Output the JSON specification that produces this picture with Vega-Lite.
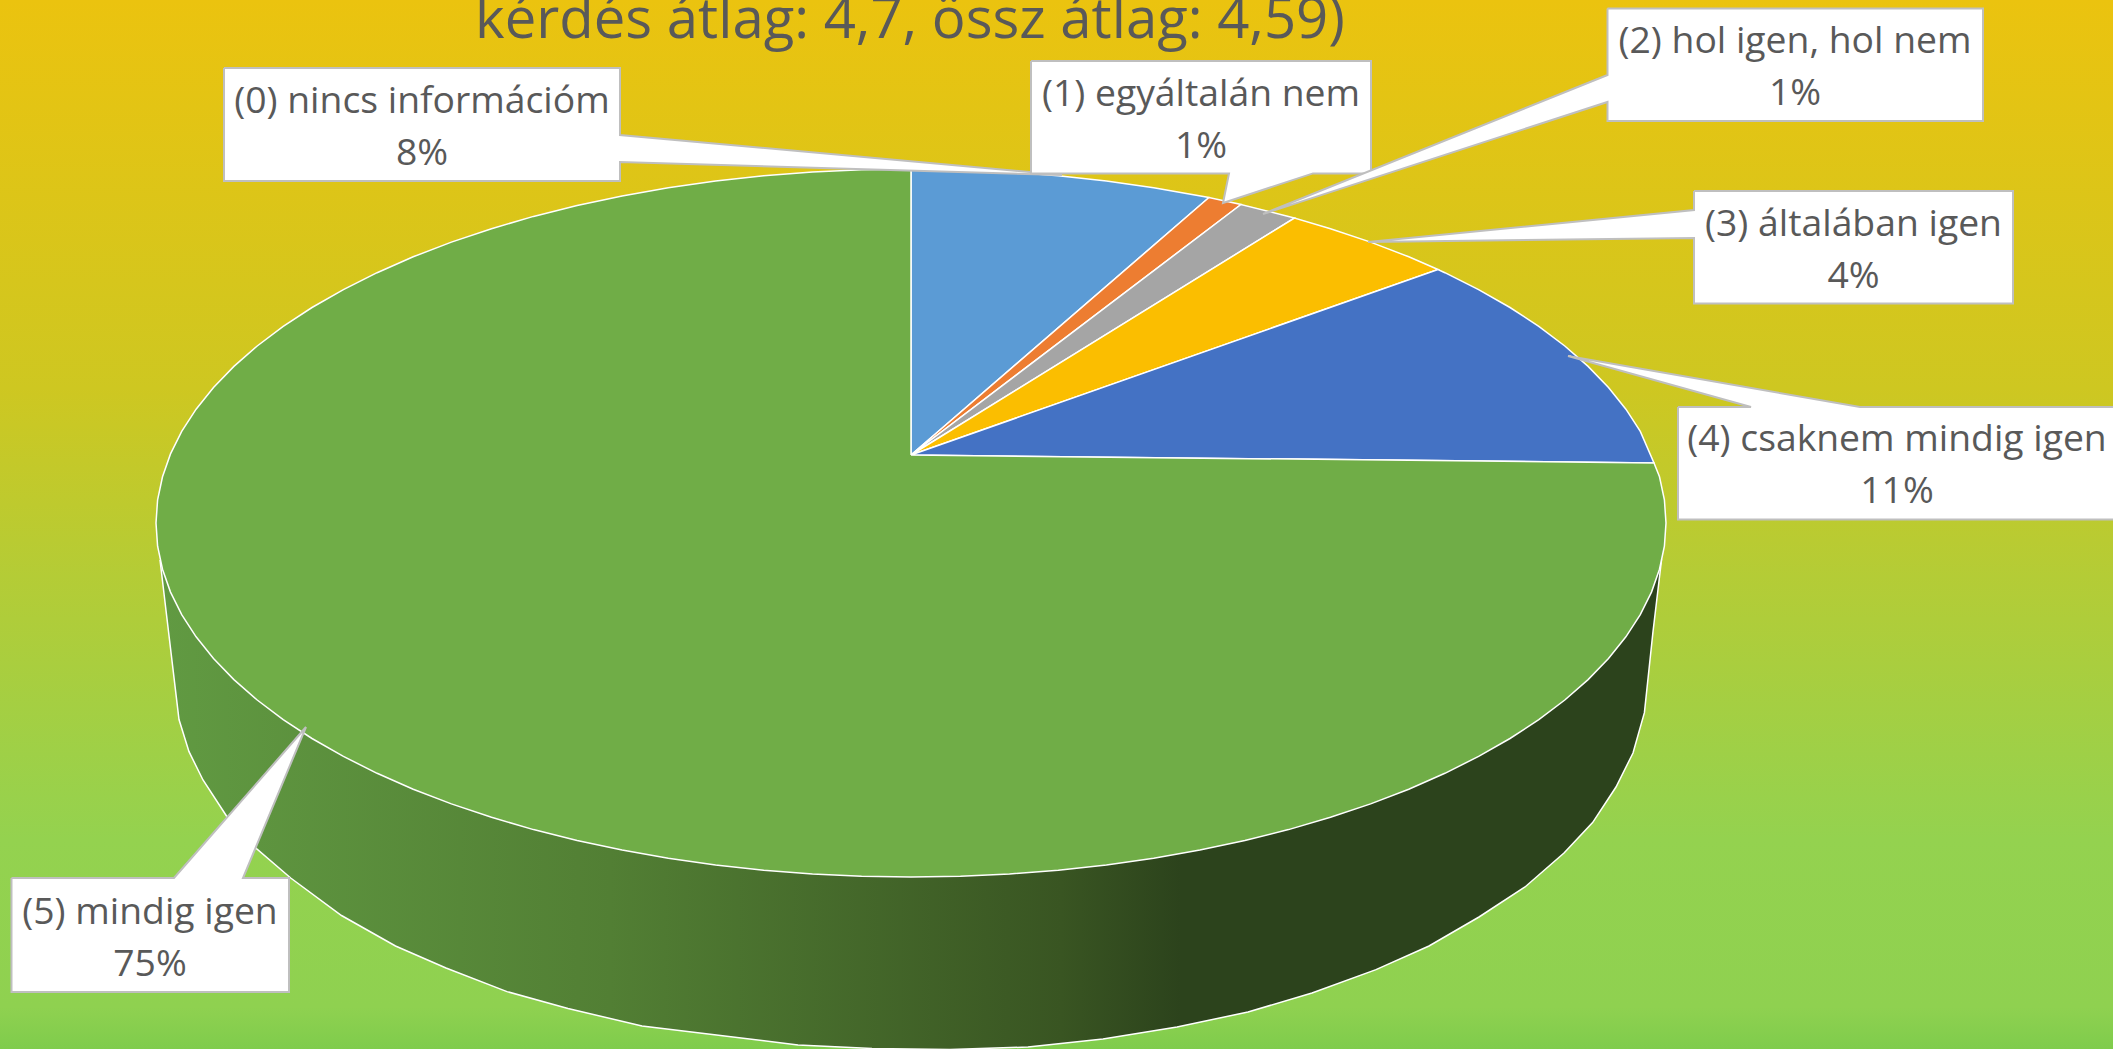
{"$schema":"https://vega.github.io/schema/vega-lite/v6.json","width":2113,"height":1049,"padding":0,"autosize":{"type":"none"},"view":{"stroke":null},
"datasets":{
"wedges":[
{"s":"a","i":0,"x":911,"y":455},{"s":"a","i":1,"x":911,"y":169},{"s":"a","i":1.5,"x":960.4,"y":169.8},{"s":"a","i":2,"x":1009.5,"y":172},{"s":"a","i":2.5,"x":1058.3,"y":175.8},{"s":"a","i":3,"x":1106.4,"y":181.1},{"s":"a","i":3.5,"x":1153.7,"y":187.8},{"s":"a","i":4,"x":1209,"y":197.5},{"s":"a","i":5,"x":911,"y":455},
{"s":"b","i":0,"x":911,"y":455},{"s":"b","i":1,"x":1209,"y":197.5},{"s":"b","i":2,"x":1241,"y":204.5},{"s":"b","i":3,"x":911,"y":455},
{"s":"c","i":0,"x":911,"y":455},{"s":"c","i":1,"x":1241,"y":204.5},{"s":"c","i":2,"x":1288.5,"y":216.4},{"s":"c","i":3,"x":1294.5,"y":218},{"s":"c","i":4,"x":911,"y":455},
{"s":"d","i":0,"x":911,"y":455},{"s":"d","i":1,"x":1294.5,"y":218},{"s":"d","i":1.5,"x":1330.5,"y":228.7},{"s":"d","i":2,"x":1370.6,"y":242.1},{"s":"d","i":2.5,"x":1408.8,"y":256.8},{"s":"d","i":3,"x":1438,"y":269.5},{"s":"d","i":4,"x":911,"y":455},
{"s":"e","i":0,"x":911,"y":455},{"s":"e","i":1,"x":1438,"y":269.5},{"s":"e","i":2,"x":1444.9,"y":272.7},{"s":"e","i":2.5,"x":1478.6,"y":289.6},{"s":"e","i":3,"x":1510,"y":307.5},{"s":"e","i":3.5,"x":1538.8,"y":326.3},{"s":"e","i":4,"x":1564.8,"y":346},{"s":"e","i":4.5,"x":1588.1,"y":366.4},{"s":"e","i":5,"x":1608.5,"y":387.5},{"s":"e","i":5.5,"x":1625.9,"y":409.2},{"s":"e","i":6,"x":1640.3,"y":431.4},{"s":"e","i":7,"x":1654,"y":463},{"s":"e","i":8,"x":911,"y":455},
{"s":"f","i":0,"x":911,"y":455},{"s":"f","i":1,"x":1654,"y":463},{"s":"f","i":2,"x":1659.5,"y":476.8},{"s":"f","i":2.5,"x":1664.4,"y":499.8},{"s":"f","i":3,"x":1666,"y":523},{"s":"f","i":3.5,"x":1664.4,"y":546.2},{"s":"f","i":4,"x":1659.5,"y":569.2},{"s":"f","i":4.5,"x":1651.5,"y":592.1},{"s":"f","i":5,"x":1640.3,"y":614.6},{"s":"f","i":5.5,"x":1625.9,"y":636.8},{"s":"f","i":6,"x":1608.5,"y":658.5},{"s":"f","i":6.5,"x":1588.1,"y":679.6},{"s":"f","i":7,"x":1564.8,"y":700},{"s":"f","i":7.5,"x":1538.8,"y":719.7},{"s":"f","i":8,"x":1510,"y":738.5},{"s":"f","i":8.5,"x":1478.6,"y":756.4},{"s":"f","i":9,"x":1444.9,"y":773.3},{"s":"f","i":9.5,"x":1408.8,"y":789.2},{"s":"f","i":10,"x":1370.6,"y":803.9},{"s":"f","i":10.5,"x":1330.5,"y":817.3},{"s":"f","i":11,"x":1288.5,"y":829.6},{"s":"f","i":11.5,"x":1244.9,"y":840.5},{"s":"f","i":12,"x":1199.9,"y":850.1},{"s":"f","i":12.5,"x":1153.7,"y":858.2},{"s":"f","i":13,"x":1106.4,"y":864.9},{"s":"f","i":13.5,"x":1058.3,"y":870.2},{"s":"f","i":14,"x":1009.5,"y":874},{"s":"f","i":14.5,"x":960.4,"y":876.2},{"s":"f","i":15,"x":911,"y":877},{"s":"f","i":15.5,"x":861.6,"y":876.2},{"s":"f","i":16,"x":812.5,"y":874},{"s":"f","i":16.5,"x":763.7,"y":870.2},{"s":"f","i":17,"x":715.6,"y":864.9},{"s":"f","i":17.5,"x":668.3,"y":858.2},{"s":"f","i":18,"x":622.1,"y":850.1},{"s":"f","i":18.5,"x":577.1,"y":840.5},{"s":"f","i":19,"x":533.5,"y":829.6},{"s":"f","i":19.5,"x":491.5,"y":817.3},{"s":"f","i":20,"x":451.4,"y":803.9},{"s":"f","i":20.5,"x":413.2,"y":789.2},{"s":"f","i":21,"x":377.1,"y":773.3},{"s":"f","i":21.5,"x":343.4,"y":756.4},{"s":"f","i":22,"x":312,"y":738.5},{"s":"f","i":22.5,"x":283.2,"y":719.7},{"s":"f","i":23,"x":257.2,"y":700},{"s":"f","i":23.5,"x":233.9,"y":679.6},{"s":"f","i":24,"x":213.5,"y":658.5},{"s":"f","i":24.5,"x":196.1,"y":636.8},{"s":"f","i":25,"x":181.7,"y":614.6},{"s":"f","i":25.5,"x":170.5,"y":592.1},{"s":"f","i":26,"x":162.5,"y":569.2},{"s":"f","i":26.5,"x":157.6,"y":546.2},{"s":"f","i":27,"x":156,"y":523},{"s":"f","i":27.5,"x":157.6,"y":499.8},{"s":"f","i":28,"x":162.5,"y":476.8},{"s":"f","i":28.5,"x":170.5,"y":453.9},{"s":"f","i":29,"x":181.7,"y":431.4},{"s":"f","i":29.5,"x":196.1,"y":409.2},{"s":"f","i":30,"x":213.5,"y":387.5},{"s":"f","i":30.5,"x":233.9,"y":366.4},{"s":"f","i":31,"x":257.2,"y":346},{"s":"f","i":31.5,"x":283.2,"y":326.3},{"s":"f","i":32,"x":312,"y":307.5},{"s":"f","i":32.5,"x":343.4,"y":289.6},{"s":"f","i":33,"x":377.1,"y":272.7},{"s":"f","i":33.5,"x":413.2,"y":256.8},{"s":"f","i":34,"x":451.4,"y":242.1},{"s":"f","i":34.5,"x":491.5,"y":228.7},{"s":"f","i":35,"x":533.5,"y":216.4},{"s":"f","i":35.5,"x":577.1,"y":205.5},{"s":"f","i":36,"x":622.1,"y":195.9},{"s":"f","i":36.5,"x":668.3,"y":187.8},{"s":"f","i":37,"x":715.6,"y":181.1},{"s":"f","i":37.5,"x":763.7,"y":175.8},{"s":"f","i":38,"x":812.5,"y":172},{"s":"f","i":38.5,"x":861.6,"y":169.8},{"s":"f","i":39,"x":911,"y":169},{"s":"f","i":40,"x":911,"y":455}
],
"rim":[
{"i":0,"x":160,"y":560},{"i":1,"x":179,"y":719.5},{"i":2,"x":189,"y":751.6},{"i":3,"x":203,"y":780},{"i":4,"x":226.5,"y":816},{"i":5,"x":253.5,"y":846},{"i":6,"x":290.7,"y":878},{"i":7,"x":341.5,"y":915.5},{"i":8,"x":395.5,"y":946},{"i":9,"x":446,"y":968},{"i":10,"x":507,"y":991.6},{"i":11,"x":568,"y":1008.5},{"i":12,"x":642,"y":1026},{"i":13,"x":798,"y":1045},{"i":14,"x":872,"y":1048.5},{"i":15,"x":950,"y":1049.5},{"i":16,"x":1028,"y":1047},{"i":17,"x":1103,"y":1039},{"i":18,"x":1177,"y":1027},{"i":19,"x":1248,"y":1012},{"i":20,"x":1312,"y":993},{"i":21,"x":1376,"y":969.6},{"i":22,"x":1429,"y":946},{"i":23,"x":1479,"y":917},{"i":24,"x":1525,"y":887},{"i":25,"x":1564,"y":853},{"i":26,"x":1592.6,"y":822.6},{"i":27,"x":1616,"y":787},{"i":28,"x":1633,"y":753},{"i":29,"x":1644.4,"y":712.7},{"i":30,"x":1653,"y":631.6},{"i":31,"x":1661.5,"y":560},{"i":32,"x":160,"y":560}
],
"callouts":[
{"s":"a","i":0,"x":224,"y":68},{"s":"a","i":1,"x":620,"y":68},{"s":"a","i":2,"x":620,"y":135},{"s":"a","i":3,"x":1062,"y":175},{"s":"a","i":4,"x":620,"y":162},{"s":"a","i":5,"x":620,"y":181},{"s":"a","i":6,"x":224,"y":181},{"s":"a","i":7,"x":224,"y":68},
{"s":"b","i":0,"x":1031,"y":61},{"s":"b","i":1,"x":1371,"y":61},{"s":"b","i":2,"x":1371,"y":173.4},{"s":"b","i":3,"x":1313,"y":173.4},{"s":"b","i":4,"x":1223,"y":203},{"s":"b","i":5,"x":1229,"y":173.4},{"s":"b","i":6,"x":1031,"y":173.4},{"s":"b","i":7,"x":1031,"y":61},
{"s":"c","i":0,"x":1607.5,"y":8.5},{"s":"c","i":1,"x":1983,"y":8.5},{"s":"c","i":2,"x":1983,"y":121},{"s":"c","i":3,"x":1607.5,"y":121},{"s":"c","i":4,"x":1607.5,"y":102},{"s":"c","i":5,"x":1263,"y":214},{"s":"c","i":6,"x":1607.5,"y":75},{"s":"c","i":7,"x":1607.5,"y":8.5},
{"s":"d","i":0,"x":1694,"y":191},{"s":"d","i":1,"x":2013,"y":191},{"s":"d","i":2,"x":2013,"y":303.6},{"s":"d","i":3,"x":1694,"y":303.6},{"s":"d","i":4,"x":1694,"y":238},{"s":"d","i":5,"x":1368,"y":242},{"s":"d","i":6,"x":1694,"y":210},{"s":"d","i":7,"x":1694,"y":191},
{"s":"e","i":0,"x":1678,"y":407},{"s":"e","i":1,"x":1751,"y":407},{"s":"e","i":2,"x":1568,"y":356},{"s":"e","i":3,"x":1860,"y":407},{"s":"e","i":4,"x":2125,"y":407},{"s":"e","i":5,"x":2125,"y":519.6},{"s":"e","i":6,"x":1678,"y":519.6},{"s":"e","i":7,"x":1678,"y":407},
{"s":"f","i":0,"x":11.5,"y":878},{"s":"f","i":1,"x":174,"y":878},{"s":"f","i":2,"x":306,"y":727},{"s":"f","i":3,"x":243,"y":878},{"s":"f","i":4,"x":289,"y":878},{"s":"f","i":5,"x":289,"y":992},{"s":"f","i":6,"x":11.5,"y":992},{"s":"f","i":7,"x":11.5,"y":878}
],
"labels":[
{"t":"(0) nincs információm\n8%","x":422,"y":113},
{"t":"(1) egyáltalán nem\n1%","x":1201,"y":105.5},
{"t":"(2) hol igen, hol nem\n1%","x":1795,"y":53},
{"t":"(3) általában igen\n4%","x":1853.5,"y":235.5},
{"t":"(4) csaknem mindig igen\n11%","x":1897,"y":451},
{"t":"(5) mindig igen\n75%","x":150,"y":924}
]},
"data":{"name":"wedges"},
"encoding":{"x":{"field":"x","type":"quantitative","scale":{"domain":[0,2113],"nice":false,"zero":false},"axis":null},"y":{"field":"y","type":"quantitative","scale":{"domain":[1049,0],"nice":false,"zero":false},"axis":null}},
"layer":[
{"data":{"values":[{"x":0,"x2":2113,"y":0,"y2":1049}]},"mark":{"type":"rect","fill":{"gradient":"linear","x1":0,"y1":0,"x2":0,"y2":1,"stops":[{"offset":0,"color":"#EBC30F"},{"offset":0.37,"color":"#CEC721"},{"offset":0.55,"color":"#B4CC36"},{"offset":0.8,"color":"#94D24F"},{"offset":0.96,"color":"#8FD150"},{"offset":1,"color":"#7FCC4C"}]}},"encoding":{"x2":{"field":"x2"},"y2":{"field":"y2"}}},
{"data":{"name":"rim"},"mark":{"type":"line","strokeWidth":1.5,"stroke":"#FFFFFF","fill":{"gradient":"linear","x1":0,"y1":0,"x2":1,"y2":0,"stops":[{"offset":0,"color":"#619A42"},{"offset":0.3,"color":"#527F34"},{"offset":0.6,"color":"#395522"},{"offset":0.68,"color":"#2C431C"},{"offset":1,"color":"#2C431C"}]}},"encoding":{"order":{"field":"i"}}},
{"mark":{"type":"line","strokeWidth":1.5,"stroke":"#FFFFFF"},"encoding":{"order":{"field":"i"},"detail":{"field":"s"},"fill":{"field":"s","type":"nominal","legend":null,"scale":{"domain":["a","b","c","d","e","f"],"range":["#5B9BD5","#ED7D31","#A5A5A5","#FBBE00","#4472C4","#70AD47"]}}}},
{"data":{"name":"callouts"},"mark":{"type":"line","strokeWidth":2,"stroke":"#BFBFBF","fill":"#FFFFFF"},"encoding":{"order":{"field":"i"},"detail":{"field":"s"}}},
{"data":{"name":"labels"},"mark":{"type":"text","font":"Open Sans","fontSize":37.3,"fill":"#595959","align":"center","baseline":"alphabetic","lineBreak":"\n","lineHeight":52},"encoding":{"text":{"field":"t"}}},
{"data":{"values":[{"t":"kérdés átlag: 4,7, össz átlag: 4,59)","x":910,"y":38}]},"mark":{"type":"text","font":"Open Sans","fontSize":56.3,"fill":"#595959","align":"center","baseline":"alphabetic"},"encoding":{"text":{"field":"t"}}}
]}
